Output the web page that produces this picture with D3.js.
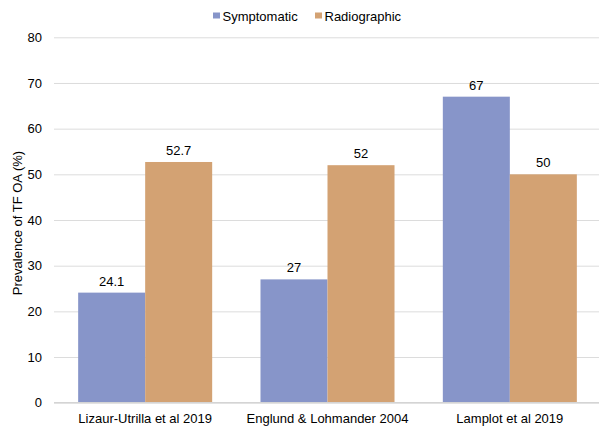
<!DOCTYPE html>
<html>
<head>
<meta charset="utf-8">
<script src="https://cdn.jsdelivr.net/npm/d3@7"></script>
<style>
  html, body { margin: 0; padding: 0; background: #fff; }
  svg { display: block; font-family: "Liberation Sans", Arial, Helvetica, sans-serif; }
</style>
</head>
<body>
<svg id="chart" width="599" height="427"></svg>
<script>
// Studies on the x axis
const categories = ["Lizaur-Utrilla et al 2019", "Englund & Lohmander 2004", "Lamplot et al 2019"];
// Prevalence of tibiofemoral OA (%) per study
const seriesNames = ["Symptomatic", "Radiographic"];
const symptomatic = [24.1, 27, 67];
const radiographic = [52.7, 52, 50];
const yTicks = [0, 10, 20, 30, 40, 50, 60, 70, 80];
const colors = ["#8795C9", "#D3A273"];

const svg = d3.select("#chart");
const margin = { left: 54, right: -2, top: 37.3, bottom: 24.3 };
const W = 599, H = 427;

const x = d3.scaleBand()
  .domain(categories)
  .range([margin.left, W - margin.right])
  .paddingInner(0.265)
  .paddingOuter(0.1325);

const xs = d3.scaleBand()
  .domain(seriesNames)
  .range([0, x.bandwidth()]);

const y = d3.scaleLinear()
  .domain([0, 80])
  .range([H - margin.bottom, margin.top]);

// Gridlines and y tick labels
const yAxis = d3.axisLeft(y)
  .tickValues(yTicks)
  .tickSize(-(W - margin.left - margin.right))
  .tickPadding(12);

const gy = svg.append("g")
  .attr("transform", `translate(${margin.left},0)`)
  .call(yAxis);
gy.select(".domain").remove();
gy.selectAll(".tick line").attr("stroke", "#DCDCDC").attr("stroke-width", 1);
gy.selectAll(".tick text")
  .attr("fill", "#000")
  .attr("font-size", 13)
  .attr("font-family", "\"Liberation Sans\", Arial, sans-serif");

// Bars
const rows = categories.map((c, i) => ({ cat: c, vals: [symptomatic[i], radiographic[i]] }));

const groups = svg.append("g").selectAll("g")
  .data(rows)
  .join("g")
  .attr("transform", d => `translate(${x(d.cat)},0)`);

groups.selectAll("rect")
  .data(d => d.vals.map((v, j) => ({ name: seriesNames[j], v, j })))
  .join("rect")
  .attr("x", d => xs(d.name))
  .attr("width", xs.bandwidth())
  .attr("y", d => y(d.v))
  .attr("height", d => y(0) - y(d.v))
  .attr("fill", d => colors[d.j]);

// Value labels
groups.selectAll("text.val")
  .data(d => d.vals.map((v, j) => ({ name: seriesNames[j], v, j })))
  .join("text")
  .attr("class", "val")
  .attr("x", d => xs(d.name) + xs.bandwidth() / 2)
  .attr("y", d => y(d.v) - 7)
  .attr("text-anchor", "middle")
  .attr("font-size", 13)
  .attr("fill", "#000")
  .text(d => d.v);

// X axis baseline and category labels
const xAxis = d3.axisBottom(x).tickSize(0).tickPadding(11);
const gx = svg.append("g")
  .attr("transform", `translate(0,${y(0)})`)
  .call(xAxis);
gx.select(".domain").remove();
svg.append("line")
  .attr("x1", margin.left).attr("x2", W)
  .attr("y1", y(0)).attr("y2", y(0))
  .attr("stroke", "#D4D4D4").attr("stroke-width", 1.2);
gx.selectAll(".tick text")
  .attr("fill", "#000")
  .attr("font-size", 13)
  .attr("font-family", "\"Liberation Sans\", Arial, sans-serif");

// Y axis title
svg.append("text")
  .attr("transform", `translate(21.5,${(y(0) + y(80)) / 2 + 3}) rotate(-90)`)
  .attr("text-anchor", "middle")
  .attr("font-size", 13)
  .attr("fill", "#000")
  .text("Prevalence of TF OA (%)");

// Legend
const legendItems = [
  { name: seriesNames[0], color: colors[0], x: 213 },
  { name: seriesNames[1], color: colors[1], x: 315 }
];
const lg = svg.append("g");
legendItems.forEach(it => {
  lg.append("rect")
    .attr("x", it.x).attr("y", 12.5)
    .attr("width", 7).attr("height", 6)
    .attr("fill", it.color);
  lg.append("text")
    .attr("x", it.x + 9.5).attr("y", 20.5)
    .attr("font-size", 13)
    .attr("fill", "#000")
    .text(it.name);
});
</script>
</body>
</html>
